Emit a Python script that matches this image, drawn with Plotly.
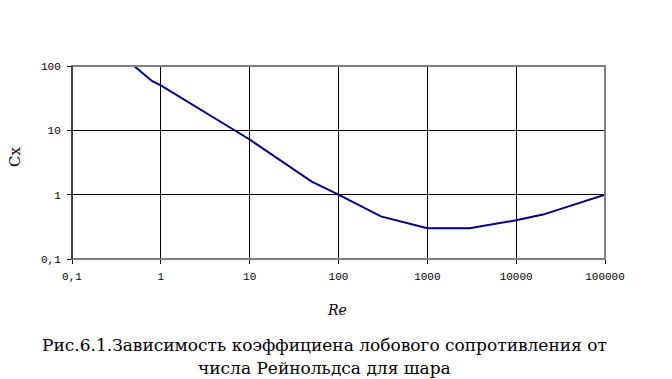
import plotly.graph_objects as go

re_vals = [0.5, 0.8, 1, 10, 50, 100, 300, 1000, 3000, 10000, 20000, 100000]
cx_vals = [100, 58, 50, 7.2, 1.6, 1.0, 0.46, 0.3, 0.3, 0.4, 0.49, 1.0]

x_tickvals = [0.1, 1, 10, 100, 1000, 10000, 100000]
x_ticktext = ["0,1", "1", "10", "100", "1000", "10000", "100000"]
y_tickvals = [0.1, 1, 10, 100]
y_ticktext = ["0,1", "1", "10", "100"]

caption_1 = "Рис.6.1.Зависимость коэффициена лобового сопротивления от"
caption_2 = "числа Рейнольдса для шара"

L, R, T, B = 72, 67, 66, 120
W, H = 672, 379
pw, ph = W - L - R, H - T - B

def px(xp):
    return (xp - L) / pw

def py(yp):
    return (H - B - yp) / ph

fig = go.Figure()
fig.add_trace(go.Scatter(x=re_vals, y=cx_vals, mode="lines",
                         line=dict(color="#000080", width=2),
                         showlegend=False))

tickfont = dict(family="Liberation Mono", size=11, color="black")
serif = "DejaVu Serif"
fig.update_layout(
    width=W, height=H,
    margin=dict(l=L, r=R, t=T, b=B, autoexpand=False),
    paper_bgcolor="white", plot_bgcolor="white",
    xaxis=dict(type="log", range=[-1, 5], tickvals=x_tickvals, ticktext=x_ticktext,
               showgrid=True, gridcolor="black", gridwidth=1, automargin=False,
               ticks="outside", ticklen=4, tickcolor="black", tickfont=tickfont,
               ticklabelstandoff=3,
               showline=False, zeroline=False),
    yaxis=dict(type="log", range=[-1, 2], tickvals=y_tickvals, ticktext=y_ticktext,
               showgrid=True, gridcolor="black", gridwidth=1, automargin=False,
               ticks="outside", ticklen=4, tickcolor="black", tickfont=tickfont,
               ticklabelstandoff=4,
               showline=True, linecolor="black", linewidth=1, zeroline=False),
    shapes=[dict(type="rect", xref="paper", yref="paper", x0=0, x1=1, y0=0, y1=1,
                 line=dict(color="#808080", width=2), layer="above"),
            dict(type="line", xref="paper", yref="paper", x0=0, x1=0, y0=0, y1=1,
                 line=dict(color="black", width=1), layer="above")],
    annotations=[
        dict(text="Cx", xref="paper", yref="paper", x=px(15), y=py(157), textangle=-90,
             xanchor="center", yanchor="middle", showarrow=False,
             font=dict(family=serif, size=15, color="black")),
        dict(text="<i>Re</i>", xref="paper", yref="paper", x=px(337), y=py(310),
             xanchor="center", yanchor="middle", showarrow=False,
             font=dict(family=serif, size=14, color="black")),
        dict(text=caption_1, xref="paper", yref="paper", x=px(324), y=py(345),
             xanchor="center", yanchor="middle", showarrow=False,
             font=dict(family=serif, size=17, color="black")),
        dict(text=caption_2, xref="paper", yref="paper", x=px(324), y=py(368),
             xanchor="center", yanchor="middle", showarrow=False,
             font=dict(family=serif, size=17, color="black")),
    ],
)

fig.write_html("out.html", config={"displayModeBar": False},
               post_script="document.body.style.margin='0';document.body.style.overflow='hidden';")
